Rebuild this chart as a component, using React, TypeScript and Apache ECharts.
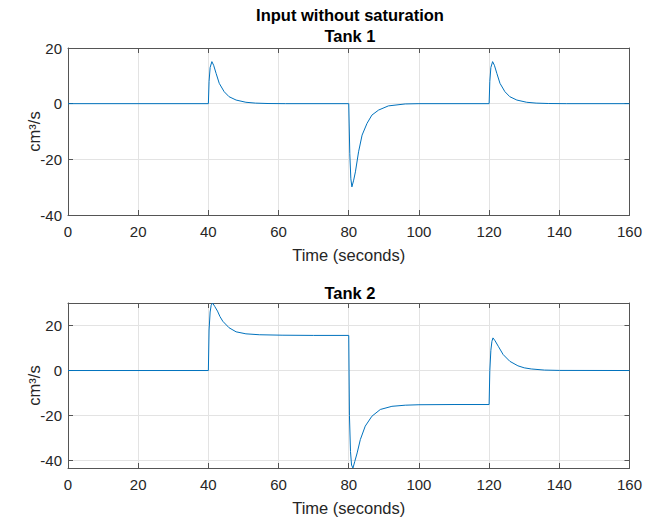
import React, { useEffect, useRef } from "react";
import * as echarts from "echarts";

// Tank 1 flow (cm^3/s) vs time (s)
const tank1Time = [0, 40, 40.2, 40.5, 41.0, 41.5, 42.2, 43.1, 44.5, 45.9, 47.9, 50.7, 53.4, 57, 62, 80, 80.3, 80.6, 80.9, 81.4, 81.9, 82.8, 83.8, 85.2, 86.6, 88.5, 91.3, 96.1, 100, 120, 120.2, 120.5, 121.0, 121.5, 122.2, 123.1, 124.5, 125.9, 127.9, 130.7, 133.4, 137, 142, 160];
const tank1Flow = [0, 0, 8, 13, 15.1, 13.8, 10.9, 7.3, 4.3, 2.5, 1.3, 0.5, 0.2, 0.05, 0, 0, -18, -27, -29.9, -27.5, -24.5, -17.3, -11.3, -7.1, -4.1, -2.3, -0.8, -0.1, 0, 0, 8, 13, 15.1, 13.8, 10.9, 7.3, 4.3, 2.5, 1.3, 0.5, 0.2, 0.05, 0, 0];

// Tank 2 flow (cm^3/s) vs time (s)
const tank2Time = [0, 40, 40.2, 40.5, 40.8, 41.2, 41.8, 42.6, 43.3, 44.1, 45.9, 47.9, 50.7, 54.5, 61, 70, 80, 80.2, 80.5, 80.8, 81.2, 81.7, 82.4, 83.3, 84.7, 86.6, 89, 92.3, 96.1, 100, 110, 120, 120.2, 120.5, 120.8, 121.1, 121.7, 122.6, 124, 125.9, 128.2, 130, 132, 135.8, 140, 160];
const tank2Flow = [0, 0, 18, 26, 29, 30, 28.5, 26.4, 24, 21.9, 19.0, 17.2, 16.3, 15.9, 15.7, 15.6, 15.6, -20, -36, -42, -43.3, -40.5, -36.6, -30.7, -24.7, -20.3, -17.3, -15.9, -15.4, -15.2, -15.1, -15.1, 0, 9, 13, 14.5, 13.2, 10.8, 7.1, 4.1, 2.1, 1.2, 0.7, 0.2, 0.05, 0];

const xTicks = [0, 20, 40, 60, 80, 100, 120, 140, 160];
const yTicks1 = [-40, -20, 0, 20];
const yTicks2 = [-40, -20, 0, 20];

const FONT = "'Liberation Sans', Arial, Helvetica, sans-serif";
const AX = "#555555";
const TXT = "#262626";
const GRIDC = "#e3e3e3";
const LINEC = "#0072BD";

function pairs(t: number[], v: number[]) {
  return t.map((x, i) => [x, v[i]]);
}

export default function App() {
  const ref = useRef<HTMLDivElement>(null);
  useEffect(() => {
    if (!ref.current) return;
    const chart = echarts.init(ref.current, undefined, { renderer: "svg" });

    const grids = [
      { left: 68, top: 48, width: 564, height: 167 },
      { left: 68, top: 303, width: 564, height: 165 },
    ];

    const xAxes: any[] = [];
    const yAxes: any[] = [];
    [0, 1].forEach((g) => {
      xAxes.push({
        type: "value",
        gridIndex: g,
        min: 0,
        max: 160,
        interval: 20,
        position: "bottom",
        name: "Time (seconds)",
        nameLocation: "middle",
        nameGap: 31,
        nameTextStyle: { fontFamily: FONT, fontSize: 16.5, color: TXT },
        axisLine: { show: true, onZero: false, lineStyle: { color: AX, width: 1 } },
        axisTick: { show: true, inside: true, length: 5, lineStyle: { color: AX } },
        axisLabel: {
          fontFamily: FONT,
          fontSize: 15,
          color: TXT,
          margin: 9,
          formatter: (v: number) => (xTicks.includes(v) ? String(v) : ""),
        },
        splitLine: { show: true, lineStyle: { color: GRIDC, width: 1 } },
      });
      xAxes.push({
        type: "value",
        gridIndex: g,
        min: 0,
        max: 160,
        interval: 20,
        position: "top",
        axisLine: { show: true, onZero: false, lineStyle: { color: AX, width: 1 } },
        axisTick: { show: true, inside: true, length: 5, lineStyle: { color: AX } },
        axisLabel: { show: false },
        splitLine: { show: false },
      });
    });

    const yTickSets = [yTicks1, yTicks2];
    const yRanges = [
      { min: -40, max: 20 },
      { min: -43.3, max: 30 },
    ];
    [0, 1].forEach((g) => {
      const ticks = yTickSets[g];
      const common = {
        type: "value",
        gridIndex: g,
        min: yRanges[g].min,
        max: yRanges[g].max,
        splitNumber: 3,
        minInterval: 20,
        maxInterval: 20,
      };
      yAxes.push({
        ...common,
        position: "left",
        name: "cm³/s",
        nameLocation: "middle",
        nameGap: 26,
        nameMoveOverlap: false,
        nameRotate: 90,
        nameTextStyle: { fontFamily: FONT, fontSize: 16.5, color: TXT },
        axisLine: { show: true, onZero: false, lineStyle: { color: AX, width: 1 } },
        axisTick: { show: true, inside: true, length: 5, lineStyle: { color: AX } },
        axisLabel: {
          fontFamily: FONT,
          fontSize: 15,
          color: TXT,
          margin: 6,
          showMinLabel: true,
          showMaxLabel: true,
          formatter: (v: number) => (ticks.includes(v) ? String(v) : ""),
        },
        splitLine: { show: true, lineStyle: { color: GRIDC, width: 1 } },
      });
      yAxes.push({
        ...common,
        position: "right",
        axisLine: { show: true, onZero: false, lineStyle: { color: AX, width: 1 } },
        axisTick: { show: true, inside: true, length: 5, lineStyle: { color: AX } },
        axisLabel: { show: false },
        splitLine: { show: false },
      });
    });

    const titleStyle = { fontFamily: FONT, fontSize: 16.5, fontWeight: "bold" as const, color: "#000" };

    chart.setOption({
      animation: false,
      backgroundColor: "#ffffff",
      title: [
        { text: "Input without saturation", left: 350, top: 6, textAlign: "center", padding: 0, textStyle: titleStyle },
        { text: "Tank 1", left: 350, top: 27, textAlign: "center", padding: 0, textStyle: titleStyle },
        { text: "Tank 2", left: 350, top: 284, textAlign: "center", padding: 0, textStyle: titleStyle },
      ],
      grid: grids,
      xAxis: xAxes,
      yAxis: yAxes,
      series: [
        {
          type: "line",
          xAxisIndex: 0,
          yAxisIndex: 0,
          data: pairs(tank1Time, tank1Flow),
          showSymbol: false,
          symbol: "none",
          smooth: false,
          lineStyle: { color: LINEC, width: 1 },
          clip: true,
        },
        {
          type: "line",
          xAxisIndex: 2,
          yAxisIndex: 2,
          data: pairs(tank2Time, tank2Flow),
          showSymbol: false,
          symbol: "none",
          smooth: false,
          lineStyle: { color: LINEC, width: 1 },
          clip: true,
        },
      ],
    });
    return () => chart.dispose();
  }, []);
  return <div ref={ref} style={{ position: "fixed", left: 0, top: 0, width: 645, height: 520 }} />;
}
